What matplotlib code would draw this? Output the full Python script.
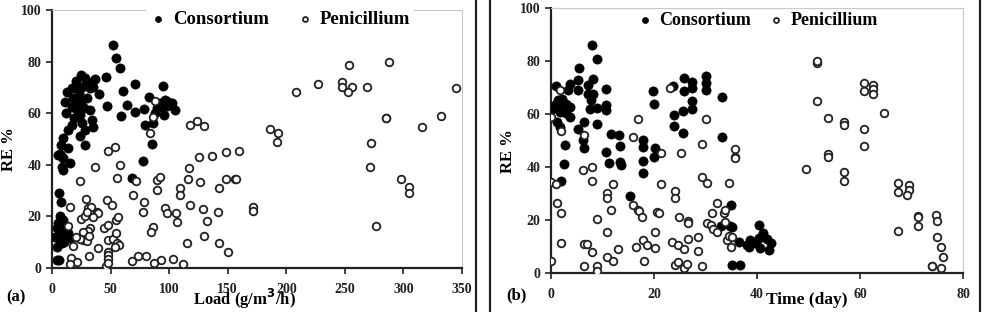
import matplotlib
matplotlib.use("Agg")
import matplotlib.pyplot as plt
from matplotlib.lines import Line2D

plt.rcParams['font.family'] = ['Liberation Serif', 'DejaVu Serif']
plt.rcParams['font.weight'] = 'bold'

# (a) removal efficiency vs. load
cons_load = [51.8, 54.7, 58, 60.3, 64.3, 59.2, 46.7, 46.1, 40.4, 37, 70.6, 71.1, 78.6, 82.6, 79.2,
             85.4, 86, 95, 95.6, 89.4, 92.2, 96.5, 99.3, 102.2, 105, 93.7, 97.9, 88,
             24.8, 20.5, 28.2, 32.5, 16.8, 12.5, 11.1, 16.8, 21.1, 23.9, 25.3, 29.6, 32.4, 33.9, 35.3,
             25.4, 16.8, 13.9, 9.7, 7.7, 14, 28.2, 23.9, 28.2, 5.4, 8.3,
             20, 23, 26, 18, 22, 27, 30, 35, 19, 12,
             6.8, 9.7, 15.4, 8.3, 9.7, 78, 68, 6.3, 7.4, 9.7, 5.4, 4, 6.8, 9.7, 12.5, 15.4, 5.4, 8.3,
             4.5, 11.1, 13.9, 6.8, 4, 6.2, 8, 10, 12, 3, 7]
cons_re_a = [86.4, 81.3, 77.6, 68.7, 63, 59, 62.8, 74.1, 67.3, 73.1, 71.2, 60.6, 61.6, 66.4, 55.4,
             48.1, 56.3, 70.5, 59.3, 61.9, 63.9, 65.1, 64.5, 63.8, 61.2, 62.5, 62.8, 60,
             74.8, 72.5, 73.5, 69.6, 69.6, 68.3, 64.5, 62.5, 61.2, 59.3, 65.1, 65.8, 61.2, 57.4, 54.8,
             56.1, 55.4, 53.5, 50.3, 47.7, 46.4, 53.5, 51.2, 47.7, 43.8, 43.1,
             70, 68, 70, 66, 64, 62, 72, 70, 58, 60,
             44.2, 42.5, 40.8, 39.3, 38, 41.6, 34.8, 29.2, 25.7, 18.6, 17.3, 15.4, 14.1, 12.8, 11.9, 11.5, 11.5, 9.6,
             8.3, 14.7, 13.7, 10.9, 3.1, 3.1, 16, 10, 16, 12, 20]

pen_load = [88.2, 86, 83.7, 48.1, 53.8, 117.8, 123.6, 129.8, 125.8, 136.4, 148.6, 159.4,
            253.9, 288, 227.2, 247.4, 247.4, 256.2, 252.5, 269, 208.6, 344.7, 284.9, 285.5, 331.9, 315.7,
            272.7, 186.2, 193.3, 191.8,
            271.6, 297.8, 304.9, 304.9, 276.7, 172, 172, 156.3,
            23.9, 36.7, 58, 55.2, 71.7, 69.4, 89.4, 92.2, 89.4, 78.6, 77.9, 96.5, 97.9, 105.9, 107,
            109.3, 109.3, 117.2, 116.4, 126.4, 117.8, 128.7, 132.1, 142, 142.9, 148.6, 156.8, 115,
            129.8, 142.9, 150.6, 111.6, 103, 92.8, 87.1, 80.3, 73.7, 68,
            14, 15.4, 24.5, 29, 31, 33, 28.2, 30.1, 38.2, 39.5, 35.3, 32.4, 31, 26.7, 26.2, 30.1,
            31.9, 23.9, 20.5, 17.7, 16, 21.6, 15.4, 31.9, 39.5, 46.1, 48.1, 48, 48, 48, 46.7, 51,
            44.4, 48.1, 54.7, 56.6, 48.1, 51.8, 54.7, 55.2, 57.5, 53.8, 86.5, 84.5]
pen_re_a = [64.7, 58.6, 52.2, 45.5, 47, 55.4, 57.1, 55, 43.1, 43.5, 44.8, 45.3,
            78.7, 79.7, 71.2, 72.2, 70, 70, 68.2, 70, 68.1, 69.6, 58, 58.2, 59, 54.5,
            48.4, 53.7, 52.2, 49,
            39.3, 34.4, 31.5, 29.2, 16.3, 23.8, 22.2, 34.4,
            33.8, 39, 39.9, 34.8, 33.8, 28.3, 34.1, 35.2, 30.2, 25.7, 21.8, 23.1, 21.2, 21.2, 17.9,
            30.9, 28.3, 38.6, 34.4, 33.5, 24.4, 22.9, 18.2, 21.8, 30.9, 34.4, 34.4, 9.8,
            12.4, 9.8, 6.3, 1.6, 3.4, 3.1, 2.1, 4.6, 4.6, 2.7,
            16.3, 23.8, 18.9, 26.6, 23.1, 23.8, 20.2, 21.8, 21.8, 21.2, 19.9, 15.4, 14.5, 14.1, 10.9, 10.6,
            12.4, 11.1, 11.9, 8.5, 3.8, 2.4, 1.6, 4.6, 7.9, 0.8, 6.3, 5, 3.5, 1.8, 26.4, 24.4,
            15.6, 16.7, 18.6, 19.9, 10.9, 11.1, 13.4, 9.6, 8.9, 8.3, 16, 14.1]

# (b) removal efficiency vs. time
cons_day = [7.9, 8.9, 5.5, 5.3, 5.3, 7.2, 8.1, 7.2, 8.2, 7.8, 7.6, 8.9, 8.9, 6.4, 5.3, 6.3, 6.4,
            10.7, 10.7, 10.7, 1, 3.7, 3.4, 0.1, 0.8, 1.4, 2.1, 2.4, 3, 3.7, 1.7, 3, 3.7, 1.1, 1.7, 2.7,
            11.6, 13.3, 13.4, 10.7, 17.9, 17.9, 19.9, 20, 23.6, 23.8, 23.9, 25.8, 25.8, 25.6, 25.6,
            27.3, 27.3, 27.3, 27.3, 30.1, 30.1, 30.1, 33.2, 33.2, 20.2,
            2.5, 1.9, 11.3, 13.4, 13.6, 17.9, 17.9, 20, 15.3, 34.9, 33.1, 34.7, 35.1,
            35.1, 36.6, 38, 38.6, 38.5, 40.4, 41.2, 40.4, 42, 42.7, 40.6, 42.4, 39.9, 36.7]
cons_re_b = [86, 81, 77.5, 72.8, 69.3, 71, 73.5, 67.8, 67.5, 65.5, 61.8, 62.2, 56.5, 57.1, 54.6, 50.2, 47.4,
             69.7, 63.4, 61.5, 70.6, 71.3, 69.1, 61.5, 63.4, 65.3, 65.9, 62.8, 64, 62.8, 60.9, 60.3, 59, 57.1, 55.2, 48.3,
             52.7, 52.1, 48, 45.8, 50.2, 47.8, 68.8, 63.8, 70.6, 59.6, 55.5, 73.7, 68.8, 61.3, 53,
             72.2, 69.8, 65, 61.9, 74.3, 71.8, 69.3, 66.7, 51.4, 47.4,
             41.1, 34.8, 41.6, 42, 40.7, 42.4, 37.9, 43.7, 29.1, 25.7, 17.7, 17.7, 3,
             17.5, 11.8, 10.5, 12.5, 9.7, 18.1, 15, 13.1, 12.7, 11.4, 9.3, 8.7, 11.2, 3]

pen_day = [1.7, 0, 1.9, 6.5, 16.8, 15.9, 23.1, 30.1, 29.3, 25.2, 21.4, 35.7,
           51.7, 51.7, 60.7, 60.7, 62.6, 62.6, 62.6, 51.7, 64.7, 53.8, 56.9, 56.9, 60.8, 60.8, 53.8, 53.8, 35.7,
           49.6, 56.9, 56.9, 67.4, 67.4, 69.5, 69.5, 69.2, 67.4, 71.3, 71.3, 71.3, 74.8, 75, 75, 75.7, 76.1,
           75.7, 73.9, 74,
           0, 1, 1.1, 1.9, 1.9, 0.1, 6.2, 7.9, 7.9, 12, 10.9, 10.9, 11.7, 8.9, 6.5, 6.9, 7.9, 6.5, 8.9, 8.9,
           10.9, 10.9, 12, 13, 15.9, 16.8, 17.1, 17.6, 16.6, 17.8, 18.7, 18.1, 20.2, 20.2, 20.5, 20.9, 21.3,
           24.1, 24.1, 24.9, 23.4, 24.7, 25.8, 24.1, 24.7, 25.8, 26.5, 26.7, 26.7, 26.7, 28.6, 28.6, 29.3,
           29.3, 30.3, 30.3, 31, 31.4, 32.2, 31.2, 32.2, 33.5, 33.8, 33.8, 34.2, 34.6, 34.9, 34.6, 35.7, 35.1]
pen_re_b = [69.3, 59, 53.6, 52.1, 58.1, 51.5, 70.1, 58.1, 48.7, 45.2, 45.2, 46.7,
            79.2, 80, 71.8, 68.7, 71, 69.7, 67.8, 65, 60.3, 58.4, 57.1, 56.1, 54.6, 48, 44.9, 43.9, 44,
            39.2, 38.2, 34.9, 34.1, 30.7, 33.2, 31.5, 29.4, 15.8, 21.6, 21, 17.7, 21.9, 19.6, 13.7, 9.9, 5.9,
            1.8, 2.8, 2.5,
            34.5, 33.6, 26.3, 22.5, 11.4, 4.5, 38.9, 40.1, 34.8, 33.5, 30.3, 28.2, 24, 20.3, 10.9, 10.9, 8, 2.6, 2.6, 0.9,
            15.6, 6.2, 4.7, 9, 25.7, 23.8, 23.3, 21.3, 9.9, 12.5, 10.6, 4.5, 9.3, 15.6, 23.1, 22.6, 33.8,
            31.1, 28.2, 21.3, 11.8, 10.6, 9, 3, 4.3, 1.8, 3.3, 19.7, 19, 12.7, 13.7, 8.3, 2.6,
            36.1, 34.2, 19, 18.1, 16.5, 15.6, 22.5, 26.5, 22.5, 23.8, 19.4, 12.5, 14, 9.9, 34.1, 43.3, 13.5]

fig = plt.figure(figsize=(9.86, 3.12), dpi=100)
ax1 = fig.add_axes([0.0527, 0.141, 0.4159, 0.827])
ax2 = fig.add_axes([0.5588, 0.125, 0.4179, 0.848])


def style_axes(ax, xmax, xstep, leg_fs, leg_anchor, colsp):
    ax.set_ylim(0, 100)
    ax.set_xlim(0, xmax)
    ax.set_yticks(range(0, 101, 20))
    ax.set_xticks(range(0, xmax + 1, xstep))
    for s in ['left', 'bottom']:
        ax.spines[s].set_linewidth(1.6)
        ax.spines[s].set_color('#222222')
    for s in ['top', 'right']:
        ax.spines[s].set_linewidth(0.8)
        ax.spines[s].set_color('#c8c8c8')
    ax.tick_params(axis='both', direction='out', length=4, width=1.2, labelsize=10,
                   colors='#222222', top=False, right=False)
    ax.tick_params(axis='x', pad=7)
    for lab in ax.get_xticklabels() + ax.get_yticklabels():
        lab.set_fontweight('bold')
    leg = ax.legend(loc='upper center', bbox_to_anchor=leg_anchor, ncol=2, frameon=True,
                    fancybox=False, edgecolor='white', framealpha=1, handletextpad=0.3,
                    handlelength=1.0, columnspacing=colsp, borderpad=0.15, markerscale=0.65,
                    prop={'family': 'Liberation Serif', 'weight': 'bold', 'size': leg_fs})
    return leg


ax1.scatter(cons_load, cons_re_a, s=44, c='black', edgecolors='black', linewidths=0.5,
            label='Consortium', zorder=3)
ax1.scatter(pen_load, pen_re_a, s=30, facecolors='white', edgecolors='#222222', linewidths=1.3,
            label='Penicillium', zorder=4)
style_axes(ax1, 350, 50, 13.5, (0.555, 1.045), 1.4)
ax1.set_ylabel('RE %', fontsize=12, fontweight='bold')
ax1.yaxis.set_label_coords(-0.085, 0.46)
ax1.set_xlabel('Load (g/m$^{3}$/h)', fontsize=12, fontweight='bold')
ax1.xaxis.set_label_coords(0.47, -0.075)

ax2.scatter(cons_day, cons_re_b, s=44, c='black', edgecolors='black', linewidths=0.5,
            label='Consortium', zorder=3)
ax2.scatter(pen_day, pen_re_b, s=30, facecolors='white', edgecolors='#222222', linewidths=1.3,
            label='Penicillium', zorder=4)
style_axes(ax2, 80, 20, 13, (0.5, 1.03), 0.9)
ax2.set_ylabel('RE %', fontsize=12, fontweight='bold')
ax2.yaxis.set_label_coords(-0.085, 0.46)
ax2.set_xlabel('Time (day)', fontsize=12.5, fontweight='bold')
ax2.xaxis.set_label_coords(0.62, -0.07)

fig.text(0.006, 0.035, '(a)', fontsize=12, fontweight='bold')
fig.text(0.513, 0.04, '(b)', fontsize=12, fontweight='bold')

# panel frames
for xf in [476 / 986, 490 / 986, 980 / 986]:
    fig.add_artist(Line2D([xf, xf], [0, 1], color='#222222', linewidth=1.6,
                          transform=fig.transFigure))

fig.savefig('out.png', dpi=100)
